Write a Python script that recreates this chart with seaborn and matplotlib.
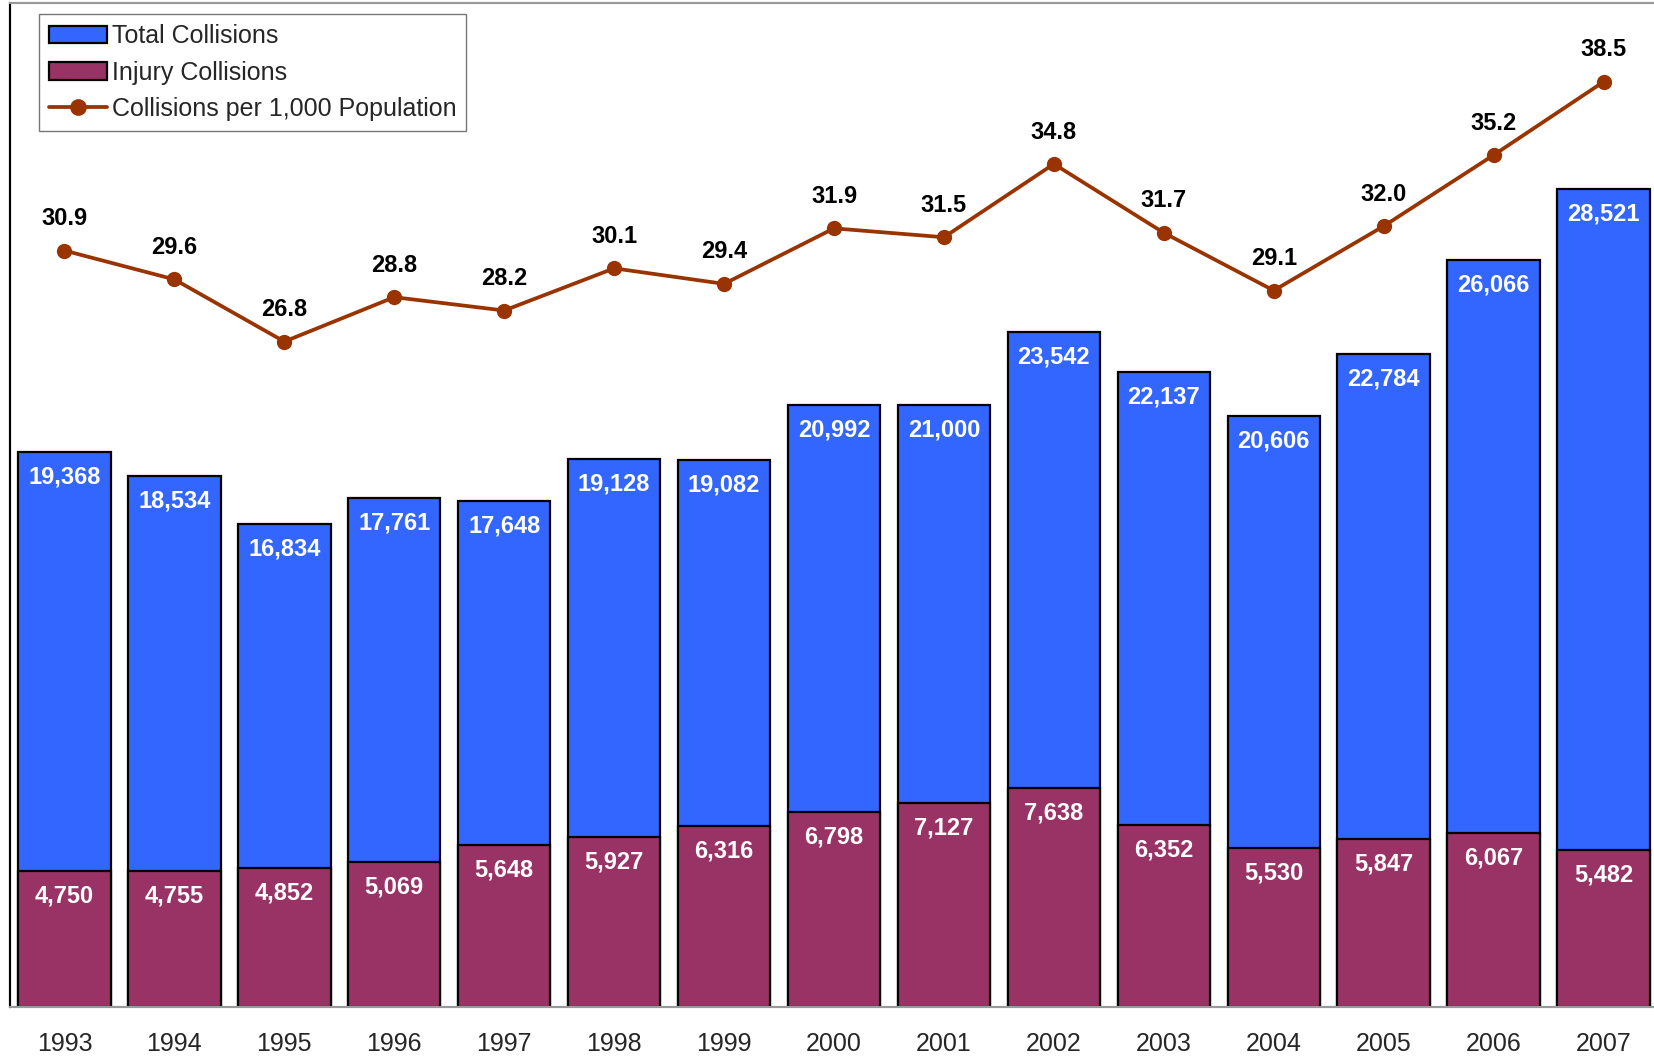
import numpy as np
import pandas as pd
import seaborn as sns
import matplotlib.pyplot as plt
from matplotlib.patches import Patch
from matplotlib.lines import Line2D

# dades
years = ['1993', '1994', '1995', '1996', '1997', '1998', '1999', '2000',
         '2001', '2002', '2003', '2004', '2005', '2006', '2007']
total = [19368, 18534, 16834, 17761, 17648, 19128, 19082, 20992,
         21000, 23542, 22137, 20606, 22784, 26066, 28521]
injury = [4750, 4755, 4852, 5069, 5648, 5927, 6316, 6798,
          7127, 7638, 6352, 5530, 5847, 6067, 5482]
rate = [30.9, 29.6, 26.8, 28.8, 28.2, 30.1, 29.4, 31.9,
        31.5, 34.8, 31.7, 29.1, 32.0, 35.2, 38.5]

C_BLUE = '#3366FF'
C_MAROON = '#993366'
C_LINE = '#993300'

sns.set_style("white")
plt.rcParams['font.family'] = ['Liberation Sans', 'DejaVu Sans']

df = pd.DataFrame({'ANY': years, 'TOTAL': total, 'INJURY': injury, 'RATE': rate})
df['POS'] = np.arange(len(df))

fig = plt.figure(figsize=(16.54, 10.57), dpi=100)
# l'eix continua una mica més enllà de la vora dreta de la imatge
ax = fig.add_axes([9.5 / 1654, 50 / 1057, 1649 / 1654, 1004 / 1057])

sns.barplot(data=df, x='ANY', y='TOTAL', color=C_BLUE, saturation=1,
            edgecolor='black', linewidth=1.6, width=0.84, ax=ax)
sns.barplot(data=df, x='ANY', y='INJURY', color=C_MAROON, saturation=1,
            edgecolor='black', linewidth=1.6, width=0.84, ax=ax)

ax.set_ylim(0, 35020)
ax.set_xlim(-0.5, 14.5)
ax.set_yticks([])
ax.set_xlabel("")
ax.set_ylabel("")
ax.tick_params(axis='x', length=0, pad=18, labelsize=18)

# etiquetes de les barres
for i, (t, j) in enumerate(zip(total, injury)):
    ax.annotate(f"{t:,}", (i, t), xytext=(0, -18), textcoords='offset points',
                ha='center', va='center', color='white', fontsize=17, fontweight='bold')
    ax.annotate(f"{j:,}", (i, j), xytext=(0, -18), textcoords='offset points',
                ha='center', va='center', color='white', fontsize=17, fontweight='bold')

# línia secundària
ax2 = ax.twinx()
sns.lineplot(data=df, x='POS', y='RATE', color=C_LINE, linewidth=2.7,
             marker='o', markersize=11, markeredgewidth=0, sort=False, ax=ax2)
ax2.set_ylim(-3.17, 42.05)
ax2.set_yticks([])
ax2.set_ylabel("")
ax2.set_xlim(-0.5, 14.5)

for i, r in enumerate(rate):
    ax2.annotate(f"{r:.1f}", (i, r), xytext=(0, 23), textcoords='offset points',
                 ha='center', va='center', color='black', fontsize=17, fontweight='bold')

# vores
for a in (ax, ax2):
    for s in ['top', 'right', 'bottom']:
        a.spines[s].set_color('#999999')
        a.spines[s].set_linewidth(1.5)
    a.spines['left'].set_color('black')
    a.spines['left'].set_linewidth(1.5)

handles = [
    Patch(facecolor=C_BLUE, edgecolor='black', linewidth=1.6, label='Total Collisions'),
    Patch(facecolor=C_MAROON, edgecolor='black', linewidth=1.6, label='Injury Collisions'),
    Line2D([0], [0], color=C_LINE, linewidth=2.7, marker='o', markersize=11,
           label='Collisions per 1,000 Population'),
]
leg = ax2.legend(handles=handles, loc='upper left', bbox_to_anchor=(0.018, 0.989),
                 fontsize=18, frameon=True, fancybox=False, borderpad=0.4,
                 labelspacing=0.5, handlelength=2.3, handletextpad=0.2,
                 borderaxespad=0)
leg.get_frame().set_edgecolor('#555555')
leg.get_frame().set_linewidth(1.0)

fig.savefig('out.png', dpi=100)
